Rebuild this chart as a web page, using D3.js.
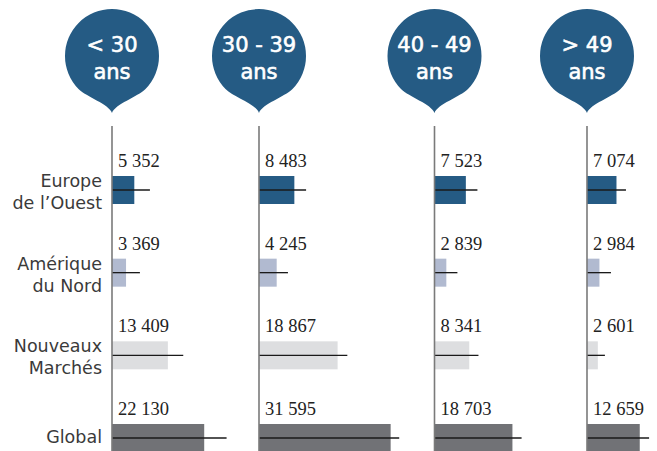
<!DOCTYPE html>
<html>
<head>
<meta charset="utf-8">
<script src="https://cdn.jsdelivr.net/npm/d3@7"></script>
<style>
  html, body { margin: 0; padding: 0; background: #fff; }
  svg { display: block; }
</style>
</head>
<body>
<svg id="chart" width="657" height="451"></svg>
<script>
// ---- DATA ----
const ageGroups = ["< 30 ans", "30 - 39 ans", "40 - 49 ans", "> 49 ans"];
const ageLabelLines = [["< 30", "ans"], ["30 - 39", "ans"], ["40 - 49", "ans"], ["> 49", "ans"]];
const regions = ["Europe de l’Ouest", "Amérique du Nord", "Nouveaux Marchés", "Global"];
const regionLabelLines = [["Europe", "de l’Ouest"], ["Amérique", "du Nord"], ["Nouveaux", "Marchés"], ["Global"]];
// bar values per region, one per age group
const europeValues   = [5352, 8483, 7523, 7074];
const ameriqueValues = [3369, 4245, 2839, 2984];
const nouveauxValues = [13409, 18867, 8341, 2601];
const globalValues   = [22130, 31595, 18703, 12659];
// reference line
const europeRef   = [9100, 11300, 10300, 9350];
const ameriqueRef = [6700, 6950, 5500, 5750];
const nouveauxRef = [17100, 21200, 10550, 4300];
const globalRef   = [27500, 33650, 20900, 14900];

// ---- LAYOUT ----
const W = 657, H = 451;
const colX = [112, 259, 434.5, 587];
const barH = 28;
const colors = ["#255b84", "#b1bad0", "#dddee0", "#717276"];
const bubbleColor = "#255b84";

const valueSeries = [europeValues, ameriqueValues, nouveauxValues, globalValues];
const refSeries = [europeRef, ameriqueRef, nouveauxRef, globalRef];

const svg = d3.select("#chart");

const xCol = d3.scaleOrdinal(ageGroups, colX);
const yRow = d3.scalePoint(regions, [190, 438]);
const xLen = d3.scaleLinear().domain([0, 24000]).range([0, 100]);

// bubbles
const r = 47, cy = 56, tipY = 113;
function bubblePath(cx) {
  const dx = 33.5, py = 89;
  return `M${cx},${tipY} C${cx-3},${tipY-9} ${cx-dx+8},${py+8} ${cx-dx},${py}` +
         ` A${r},${r} 0 1 1 ${cx+dx},${py}` +
         ` C${cx+dx-8},${py+8} ${cx+3},${tipY-9} ${cx},${tipY} Z`;
}
const bub = svg.append("g").selectAll("g").data(ageGroups).join("g");
bub.append("path").attr("d", d => bubblePath(xCol(d))).attr("fill", bubbleColor);
bub.each(function(d, i) {
  const g = d3.select(this);
  ageLabelLines[i].forEach((t, j) => {
    g.append("text")
      .attr("x", xCol(d)).attr("y", cy - 4 + j * 27)
      .attr("text-anchor", "middle")
      .attr("font-family", "DejaVu Sans, sans-serif")
      .attr("font-size", 21)
      .attr("fill", "#fff")
      .attr("stroke", "#fff").attr("stroke-width", 0.6)
      .text(t);
  });
});

// region labels
regions.forEach((reg, ri) => {
  const lines = regionLabelLines[ri];
  const cyR = yRow(reg);
  lines.forEach((t, j) => {
    svg.append("text")
      .attr("x", 102)
      .attr("y", lines.length === 1 ? cyR + 5 : cyR - 3 + j * 22)
      .attr("text-anchor", "end")
      .attr("font-family", "DejaVu Sans, sans-serif")
      .attr("font-size", 17.5)
      .attr("fill", "#3a3a3a")
      .text(t);
  });
});

// bars, lines, values
const fmt = v => d3.format(",")(v).replace(/,/g, " ");
regions.forEach((reg, ri) => {
  const cyR = yRow(reg);
  const g = svg.append("g");
  g.selectAll("rect").data(ageGroups).join("rect")
    .attr("x", d => xCol(d))
    .attr("y", cyR - barH / 2)
    .attr("width", (d, i) => xLen(valueSeries[ri][i]))
    .attr("height", barH)
    .attr("fill", colors[ri]);
  g.selectAll("line").data(ageGroups).join("line")
    .attr("x1", d => xCol(d))
    .attr("x2", (d, i) => xCol(d) + xLen(refSeries[ri][i]))
    .attr("y1", cyR).attr("y2", cyR)
    .attr("stroke", "#1a1a1a").attr("stroke-width", 1.3);
  g.selectAll("text").data(ageGroups).join("text")
    .attr("x", d => xCol(d) + 6)
    .attr("y", cyR - barH / 2 - 9)
    .attr("font-family", "Liberation Serif, serif")
    .attr("font-size", 18.5)
    .attr("fill", "#222")
    .text((d, i) => fmt(valueSeries[ri][i]));
});

// axis lines on top
svg.append("g").selectAll("line").data(ageGroups).join("line")
  .attr("x1", d => xCol(d)).attr("x2", d => xCol(d))
  .attr("y1", 126).attr("y2", H)
  .attr("stroke", "#7a7a7a").attr("stroke-width", 1.6);
</script>
</body>
</html>
